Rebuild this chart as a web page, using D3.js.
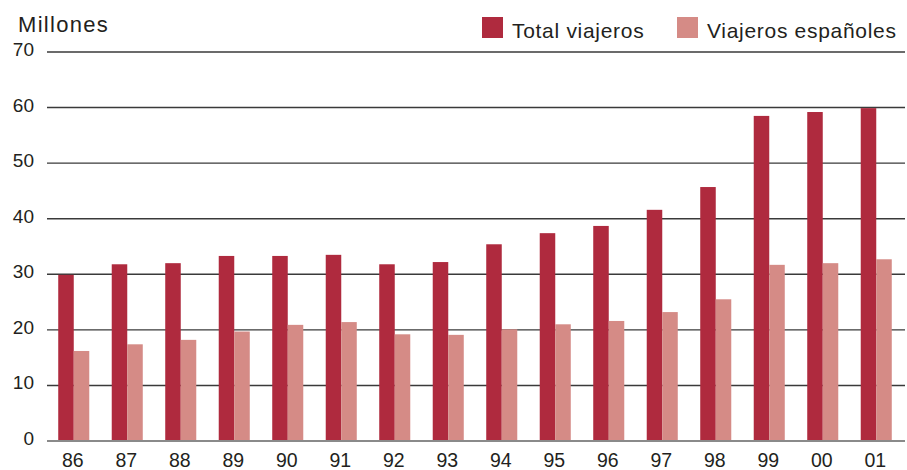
<!DOCTYPE html>
<html>
<head>
<meta charset="utf-8">
<script src="https://cdn.jsdelivr.net/npm/d3@7"></script>
<style>
  body { margin: 0; background: #fff; }
  svg text { font-family: "Liberation Sans", Arial, sans-serif; fill: #231f20; }
</style>
</head>
<body>
<div id="chart"></div>
<script>
var years = ["86", "87", "88", "89", "90", "91", "92", "93", "94", "95", "96", "97", "98", "99", "00", "01"];
var totalViajeros = [29.9, 31.8, 32.0, 33.3, 33.3, 33.5, 31.8, 32.2, 35.4, 37.4, 38.7, 41.6, 45.7, 58.5, 59.2, 59.9];
var viajerosEspanoles = [16.2, 17.4, 18.2, 19.7, 20.9, 21.4, 19.2, 19.1, 20.1, 21.0, 21.6, 23.2, 25.5, 31.7, 32.0, 32.7];
var yTicks = [0, 10, 20, 30, 40, 50, 60, 70];
var seriesNames = ["Total viajeros", "Viajeros españoles"];
var colors = ["#af2a3e", "#d58b86"];

var W = 907, H = 470;
var margin = { top: 52, right: 2, bottom: 29, left: 47 };
var width = W - margin.left - margin.right,
    height = H - margin.top - margin.bottom;

var svg = d3.select("#chart")
    .append("svg")
    .attr("width", W)
    .attr("height", H)
    .append("g")
    .attr("transform", "translate(" + margin.left + "," + margin.top + ")");

var x = d3.scaleBand()
    .domain(years)
    .range([0, width - 2])
    .paddingInner(0.42)
    .paddingOuter(0.21);

var xSub = d3.scaleBand()
    .domain([0, 1])
    .range([0, x.bandwidth()]);

var y = d3.scaleLinear()
    .domain([0, 70])
    .range([height, 0]);

// grid lines
svg.selectAll(".grid")
    .data(yTicks.filter(function (d) { return d > 0; }))
    .enter().append("line")
    .attr("x1", 0)
    .attr("x2", width)
    .attr("y1", function (d) { return y(d); })
    .attr("y2", function (d) { return y(d); })
    .attr("stroke", "#3a3a3a")
    .attr("stroke-width", 1.4);

// y tick labels
svg.selectAll(".ylab")
    .data(yTicks)
    .enter().append("text")
    .attr("x", -13)
    .attr("y", function (d) { return y(d) + 4; })
    .attr("text-anchor", "end")
    .style("font-size", "19px")
    .text(function (d) { return d; });

var series = [totalViajeros, viajerosEspanoles];

series.forEach(function (vals, i) {
    svg.selectAll(".bar" + i)
        .data(vals)
        .enter().append("rect")
        .attr("x", function (d, j) { return x(years[j]) + xSub(i); })
        .attr("y", function (d) { return y(d); })
        .attr("width", xSub.bandwidth())
        .attr("height", function (d) { return height - y(d); })
        .attr("fill", colors[i]);
});

// baseline
svg.append("line")
    .attr("x1", 0)
    .attr("x2", width)
    .attr("y1", y(0))
    .attr("y2", y(0))
    .attr("stroke", "#8a8a8a")
    .attr("stroke-width", 2);

// x labels
svg.selectAll(".xlab")
    .data(years)
    .enter().append("text")
    .attr("x", function (d) { return x(d) + x.bandwidth() / 2 - 1; })
    .attr("y", height + 25.5)
    .attr("text-anchor", "middle")
    .style("font-size", "19.5px")
    .text(function (d) { return d; });

// title
svg.append("text")
    .attr("x", -29)
    .attr("y", -20.5)
    .style("font-size", "22px")
    .style("letter-spacing", "1.3px")
    .text("Millones");

// legend
var legendX = [435, 630];
seriesNames.forEach(function (name, i) {
    svg.append("rect")
        .attr("x", legendX[i])
        .attr("y", -35)
        .attr("width", 21)
        .attr("height", 21)
        .attr("fill", colors[i]);
    svg.append("text")
        .attr("x", legendX[i] + 30)
        .attr("y", -14.5)
        .style("font-size", "21px")
        .style("letter-spacing", "0.7px")
        .text(name);
});
</script>
</body>
</html>
